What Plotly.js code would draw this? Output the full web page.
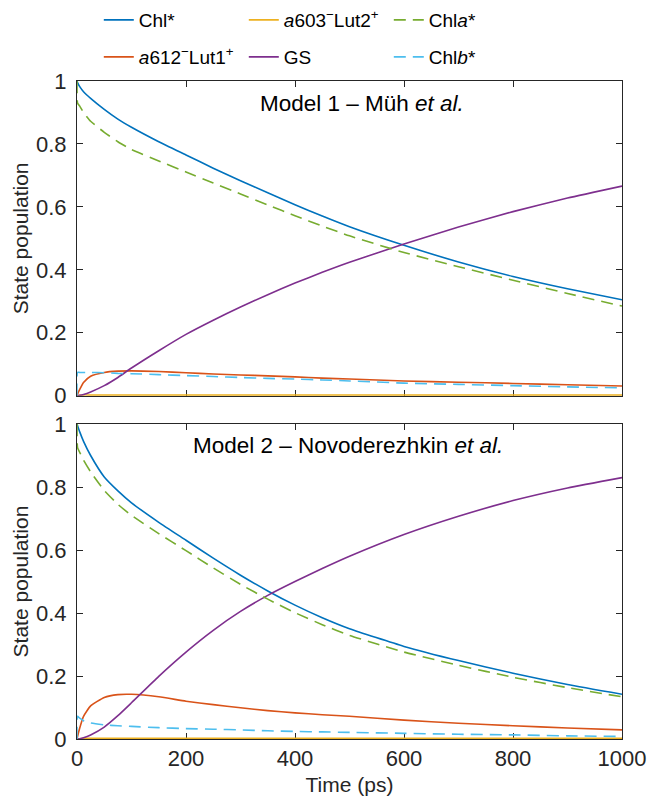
<!DOCTYPE html>
<html>
<head>
<meta charset="utf-8">
<script src="https://cdn.plot.ly/plotly-3.0.1.min.js"></script>
<style>html,body{margin:0;padding:0;background:#fff;}#chart{width:649px;height:796px;}</style>
</head>
<body>
<div id="chart"></div>
<script>
// Time grid (ps)
var time = [0, 1, 5, 12, 25, 50, 75, 100, 150, 200, 250, 300, 350, 400, 450, 500, 600, 700, 800, 900, 1000];

// Model 1 – Müh et al.
var m1_chl   = [1.0, 0.995, 0.982, 0.966, 0.945, 0.91, 0.879, 0.853, 0.807, 0.765, 0.723, 0.683, 0.645, 0.607, 0.571, 0.537, 0.478, 0.425, 0.379, 0.34, 0.305];
var m1_a612  = [0, 0.005, 0.02, 0.042, 0.062, 0.074, 0.078, 0.079, 0.077, 0.073, 0.069, 0.066, 0.063, 0.06, 0.056, 0.053, 0.047, 0.043, 0.039, 0.035, 0.031];
var m1_a603  = [0, 0, 0.001, 0.002, 0.002, 0.002, 0.002, 0.002, 0.002, 0.002, 0.002, 0.002, 0.002, 0.002, 0.002, 0.002, 0.002, 0.002, 0.002, 0.002, 0.002];
var m1_gs    = [0, 0, 0.001, 0.004, 0.012, 0.032, 0.058, 0.088, 0.143, 0.195, 0.24, 0.282, 0.321, 0.358, 0.392, 0.424, 0.482, 0.536, 0.585, 0.628, 0.666];
var m1_chla  = [1.0, 0.93, 0.92, 0.9, 0.872, 0.837, 0.807, 0.782, 0.746, 0.711, 0.676, 0.641, 0.606, 0.572, 0.539, 0.508, 0.455, 0.41, 0.367, 0.325, 0.285];
var m1_chlb  = [0, 0.074, 0.074, 0.074, 0.074, 0.073, 0.071, 0.07, 0.067, 0.064, 0.061, 0.058, 0.055, 0.053, 0.05, 0.047, 0.04, 0.036, 0.032, 0.028, 0.025];

// Model 2 – Novoderezhkin et al.
var m2_chl   = [1.0, 0.995, 0.975, 0.945, 0.9, 0.832, 0.788, 0.75, 0.688, 0.631, 0.574, 0.52, 0.47, 0.425, 0.385, 0.35, 0.294, 0.249, 0.209, 0.173, 0.142];
var m2_a612  = [0, 0.008, 0.035, 0.072, 0.105, 0.132, 0.141, 0.142, 0.134, 0.12, 0.109, 0.099, 0.09, 0.083, 0.077, 0.072, 0.06, 0.05, 0.042, 0.035, 0.029];
var m2_a603  = [0, 0, 0.001, 0.002, 0.002, 0.002, 0.002, 0.002, 0.002, 0.002, 0.002, 0.002, 0.002, 0.002, 0.002, 0.002, 0.002, 0.002, 0.002, 0.002, 0.002];
var m2_gs    = [0, 0, 0.001, 0.004, 0.013, 0.038, 0.074, 0.115, 0.199, 0.276, 0.345, 0.405, 0.456, 0.5, 0.541, 0.58, 0.649, 0.707, 0.757, 0.797, 0.83];
var m2_chla  = [1.0, 0.925, 0.91, 0.885, 0.848, 0.789, 0.745, 0.71, 0.652, 0.598, 0.543, 0.491, 0.444, 0.401, 0.363, 0.329, 0.276, 0.234, 0.196, 0.163, 0.134];
var m2_chlb  = [0, 0.072, 0.066, 0.058, 0.051, 0.045, 0.042, 0.04, 0.036, 0.033, 0.031, 0.029, 0.026, 0.024, 0.0225, 0.021, 0.018, 0.015, 0.013, 0.01, 0.008];

var names = ['Chl*', '<i>a</i>612<sup>−</sup>Lut1<sup>+</sup>', '<i>a</i>603<sup>−</sup>Lut2<sup>+</sup>', 'GS', 'Chl<i>a</i>*', 'Chl<i>b</i>*'];
var colors = ['#0072BD', '#D95319', '#EDB120', '#7E2F8E', '#77AC30', '#4DBEEE'];
var legendOf = ['legend', 'legend2', 'legend', 'legend2', 'legend', 'legend2'];
var ranks = [1, 1, 2, 2, 3, 3];
var dashes = ['solid', 'solid', 'solid', 'solid', '12px,7px', '12px,7px'];

var model1 = [m1_chl, m1_a612, m1_a603, m1_gs, m1_chla, m1_chlb];
var model2 = [m2_chl, m2_a612, m2_a603, m2_gs, m2_chla, m2_chlb];

var traces = [];
model1.forEach(function (ys, i) {
  traces.push({x: time, y: ys, type: 'scatter', mode: 'lines', name: names[i],
    line: {color: colors[i], width: 1.6, dash: dashes[i], shape: 'spline', smoothing: 0.5},
    xaxis: 'x', yaxis: 'y', legend: legendOf[i], legendrank: ranks[i], showlegend: true});
});
model2.forEach(function (ys, i) {
  traces.push({x: time, y: ys, type: 'scatter', mode: 'lines', name: names[i],
    line: {color: colors[i], width: 1.6, dash: dashes[i], shape: 'spline', smoothing: 0.5},
    xaxis: 'x2', yaxis: 'y2', showlegend: false});
});

var axcol = '#262626';
var fontFam = '"Liberation Sans", Arial, sans-serif';
var xBase = {range: [0, 1000], dtick: 200, tick0: 0, ticks: 'inside', ticklen: 6, tickcolor: axcol,
  showline: true, linecolor: axcol, linewidth: 1, mirror: 'ticks', showgrid: false, zeroline: false,
  layer: 'below traces', tickfont: {family: fontFam, size: 22, color: axcol}};
var yBase = {range: [0, 1], dtick: 0.2, tick0: 0, ticks: 'inside', ticklen: 6, tickcolor: axcol,
  showline: true, linecolor: axcol, linewidth: 1, mirror: 'ticks', showgrid: false, zeroline: false,
  layer: 'below traces', ticklabelstandoff: 5, tickfont: {family: fontFam, size: 22, color: axcol}};

var legBase = {orientation: 'h', x: 0.04, xanchor: 'left', yanchor: 'middle',
  font: {family: fontFam, size: 19, color: '#000'}, entrywidth: 100, entrywidthmode: 'pixels',
  bgcolor: 'rgba(0,0,0,0)', traceorder: 'normal'};

var layout = {
  width: 649, height: 796,
  margin: {l: 77, r: 27, t: 81, b: 57, autoexpand: false},
  paper_bgcolor: '#fff', plot_bgcolor: '#fff',
  font: {family: fontFam, color: axcol},
  showlegend: true,
  legend: Object.assign({}, legBase, {y: 1.0927}),
  legend2: Object.assign({}, legBase, {y: 1.0365}),
  xaxis: Object.assign({}, xBase, {domain: [0, 1], anchor: 'y', showticklabels: false}),
  yaxis: Object.assign({}, yBase, {domain: [0.5217, 1], anchor: 'x',
    title: {text: 'State population', font: {family: fontFam, size: 21, color: axcol}, standoff: 1}}),
  xaxis2: Object.assign({}, xBase, {domain: [0, 1], anchor: 'y2',
    title: {text: 'Time (ps)', font: {family: fontFam, size: 21, color: axcol}, standoff: 8}}),
  yaxis2: Object.assign({}, yBase, {domain: [0, 0.4787], anchor: 'x2',
    title: {text: 'State population', font: {family: fontFam, size: 21, color: axcol}, standoff: 1}}),
  annotations: [
    {text: 'Model 1 – Müh <i>et al.</i>', xref: 'x', yref: 'y', x: 523, y: 0.927, showarrow: false,
      xanchor: 'center', yanchor: 'middle', font: {family: fontFam, size: 22.5, color: '#000'}},
    {text: 'Model 2 – Novoderezhkin <i>et al.</i>', xref: 'x2', yref: 'y2', x: 498, y: 0.932, showarrow: false,
      xanchor: 'center', yanchor: 'middle', font: {family: fontFam, size: 22.5, color: '#000'}}
  ]
};

Plotly.newPlot('chart', traces, layout, {displayModeBar: false, staticPlot: true});
</script>
</body>
</html>
